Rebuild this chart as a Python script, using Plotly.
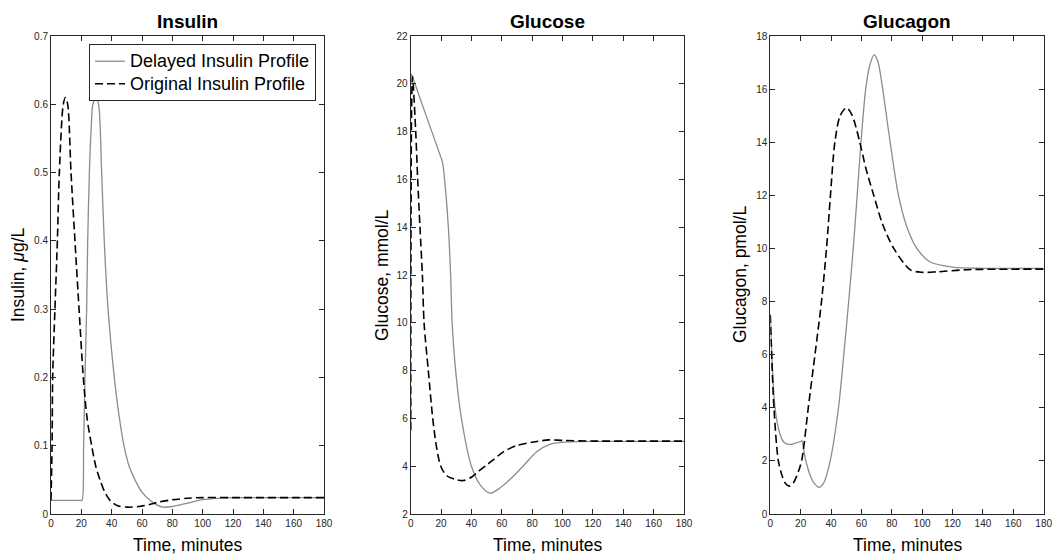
import plotly.graph_objects as go

# ---------------- data ----------------
# Insulin, delayed profile
ins_del_t = [0, 19.5, 20.5, 21.5, 22.4, 23.5, 24.2, 25.3, 26.5, 27.6, 29.7, 31.4, 33.4, 35.1,
             37.6, 41.7, 44.5, 48.1, 51.5, 55.4, 60, 65.3, 70, 74, 80, 90, 100, 110, 120, 140, 160, 180]
ins_del_y = [0.02, 0.02, 0.02, 0.1, 0.2, 0.3, 0.4, 0.5, 0.565, 0.6, 0.61, 0.6, 0.5, 0.4,
             0.3, 0.2, 0.15, 0.1, 0.07, 0.05, 0.032, 0.02, 0.013, 0.01, 0.011, 0.016, 0.021, 0.023, 0.024, 0.024, 0.024, 0.024]
# Insulin, original profile
ins_org_t = [0, 0.7, 1.1, 2.6, 4.2, 5.5, 8.1, 9.5, 11, 13.2, 15.8, 18.5, 21.3, 23.8, 26.8, 29.5, 32.3,
             35.5, 38.9, 44, 51, 58, 65, 72, 80.6, 90, 100, 120, 140, 160, 180]
ins_org_y = [0.02, 0.1, 0.2, 0.3, 0.4, 0.5, 0.6, 0.61, 0.6, 0.5, 0.4, 0.3, 0.2, 0.14, 0.1, 0.07, 0.05,
             0.032, 0.02, 0.012, 0.01, 0.011, 0.014, 0.018, 0.021, 0.023, 0.024, 0.024, 0.024, 0.024, 0.024]

# Glucose, delayed profile
glu_del_t = [0, 0.6, 1.2, 5, 10, 15, 20, 21, 22.3, 24.8, 26.3, 27.3, 29.6, 33.4, 40, 46, 52.5, 59,
             65.5, 74, 83, 92, 100, 110, 120, 150, 180]
glu_del_y = [5.5, 20.4, 20.3, 19.6, 18.7, 17.8, 16.9, 16.7, 16.0, 14, 12, 10, 8, 6, 4, 3.2, 2.87, 3.1,
             3.45, 4.0, 4.6, 4.92, 5.0, 5.03, 5.04, 5.04, 5.04]
# Glucose, original profile
glu_org_t = [0, 0.6, 1.2, 3.3, 4.6, 6.1, 7.7, 8.8, 11.6, 14.5, 17, 19.8, 23.7, 29.2, 34.7, 40.2, 45, 50,
             55, 61, 70, 80, 91, 100, 120, 150, 180]
glu_org_y = [5.5, 19, 20.3, 18, 16, 14, 12, 10, 8, 6, 4.8, 4.0, 3.6, 3.45, 3.4, 3.55, 3.8, 4.05,
             4.3, 4.6, 4.87, 5.0, 5.1, 5.08, 5.05, 5.05, 5.05]

# Glucagon, delayed profile
gcg_del_t = [0, 3.1, 6.4, 9, 12, 16, 20.2, 20.8, 21.6, 23, 26, 29, 32, 35, 39.4, 44.9, 48.4, 51.6, 54.6,
             57.2, 59.7, 62.8, 65.5, 68.4, 71, 74, 78.9, 84.4, 90, 96.5, 105, 120, 140, 180]
gcg_del_y = [7.5, 4, 3, 2.7, 2.62, 2.66, 2.74, 2.76, 2.55, 2.1, 1.5, 1.15, 1.0, 1.15, 2, 4, 6, 8, 10,
             12, 14, 16, 16.9, 17.3, 17.0, 16, 14, 12, 10.8, 10, 9.5, 9.3, 9.25, 9.25]
# Glucagon, original profile
gcg_org_t = [0, 2.4, 5.3, 8, 10, 12.5, 15, 17.5, 20.6, 25, 29.4, 33.7, 37, 39.6, 42.5, 46, 50.2, 54,
             58.9, 63, 68.1, 74, 81.3, 92, 100, 110, 130, 180]
gcg_org_y = [7.5, 4, 2, 1.4, 1.15, 1.05, 1.15, 1.45, 2, 4, 6, 8, 10, 12, 14, 15, 15.3, 15.0,
             14, 13, 12, 10.9, 10, 9.2, 9.1, 9.12, 9.2, 9.22]

panel_titles = ["Insulin", "Glucose", "Glucagon"]
y_titles = ["Insulin, <i>μ</i>g/L", "Glucose, mmol/L", "Glucagon, pmol/L"]
x_title = "Time, minutes"
legend_names = ["Delayed Insulin Profile", "Original Insulin Profile"]
y_ranges = [[0, 0.7], [2, 22], [0, 18]]
y_dticks = [0.1, 2, 2]

# ---------------- layout ----------------
W, H = 1052, 557
FONT = "Liberation Sans, Arial, Helvetica, sans-serif"
AX = "#262626"
GRAY = "rgb(140,140,140)"

x_dom = [(51, 324), (410.7, 684), (770.3, 1043.7)]
top_px, bot_px = 36, 514
y_dom = [1 - bot_px / H, 1 - top_px / H]

fig = go.Figure()

series = [
    (ins_del_t, ins_del_y, ins_org_t, ins_org_y),
    (glu_del_t, glu_del_y, glu_org_t, glu_org_y),
    (gcg_del_t, gcg_del_y, gcg_org_t, gcg_org_y),
]

for i, (dt, dy, ot, oy) in enumerate(series):
    xa = "x" if i == 0 else f"x{i+1}"
    ya = "y" if i == 0 else f"y{i+1}"
    fig.add_trace(go.Scatter(x=dt, y=dy, mode="lines",
                             name=f'<span style="font-size:18px">{legend_names[0]}</span>',
                             line=dict(color=GRAY, width=1.3, shape="spline", smoothing=0.8),
                             xaxis=xa, yaxis=ya, showlegend=(i == 0)))
    fig.add_trace(go.Scatter(x=ot, y=oy, mode="lines",
                             name=f'<span style="font-size:18px">{legend_names[1]}</span>',
                             line=dict(color="black", width=1.6, dash="8px,4px", shape="spline", smoothing=0.8),
                             xaxis=xa, yaxis=ya, showlegend=(i == 0)))

axis_common = dict(showline=True, linecolor=AX, linewidth=1, mirror="ticks", ticks="inside",
                   ticklen=5, tickwidth=1, tickcolor=AX, showgrid=False, zeroline=False,
                   automargin=False, ticklabeloverflow="allow",
                   tickfont=dict(family=FONT, size=10, color=AX))

layout = dict(width=W, height=H, margin=dict(l=0, r=0, t=0, b=0, pad=0), autosize=False,
              paper_bgcolor="white", plot_bgcolor="white",
              font=dict(family=FONT, color="black"))
for i in range(3):
    xk = "xaxis" if i == 0 else f"xaxis{i+1}"
    yk = "yaxis" if i == 0 else f"yaxis{i+1}"
    ya = "y" if i == 0 else f"y{i+1}"
    xa = "x" if i == 0 else f"x{i+1}"
    layout[xk] = dict(domain=[x_dom[i][0] / W, x_dom[i][1] / W], range=[0, 180], dtick=20,
                      tick0=0, anchor=ya, **axis_common)
    layout[yk] = dict(domain=y_dom, range=y_ranges[i], dtick=y_dticks[i], tick0=0,
                      anchor=xa, **axis_common)

fig.update_layout(**layout)

ann = []
for i in range(3):
    cx = (x_dom[i][0] + x_dom[i][1]) / 2 / W
    ann.append(dict(x=cx, y=1 - 21.5 / H, xref="paper", yref="paper", text=f"<b>{panel_titles[i]}</b>",
                    showarrow=False, xanchor="center", yanchor="middle",
                    font=dict(family=FONT, size=19, color="black")))
    ann.append(dict(x=cx, y=1 - 545 / H, xref="paper", yref="paper", text=x_title,
                    showarrow=False, xanchor="center", yanchor="middle",
                    font=dict(family=FONT, size=17.5, color="black")))
y_title_x = [18, 382, 740]
for i in range(3):
    ann.append(dict(x=y_title_x[i] / W, y=1 - 275 / H, xref="paper", yref="paper", text=y_titles[i],
                    showarrow=False, xanchor="center", yanchor="middle", textangle=-90,
                    font=dict(family=FONT, size=17.5, color="black")))
fig.update_layout(annotations=ann)

fig.update_layout(legend=dict(x=316 / W, y=1 - 44 / H, xanchor="right", yanchor="top",
                              bgcolor="white", bordercolor=AX, borderwidth=1,
                              font=dict(family=FONT, size=15, color="black"),
                              tracegroupgap=0, itemwidth=30))

fig.write_html("out.html")
